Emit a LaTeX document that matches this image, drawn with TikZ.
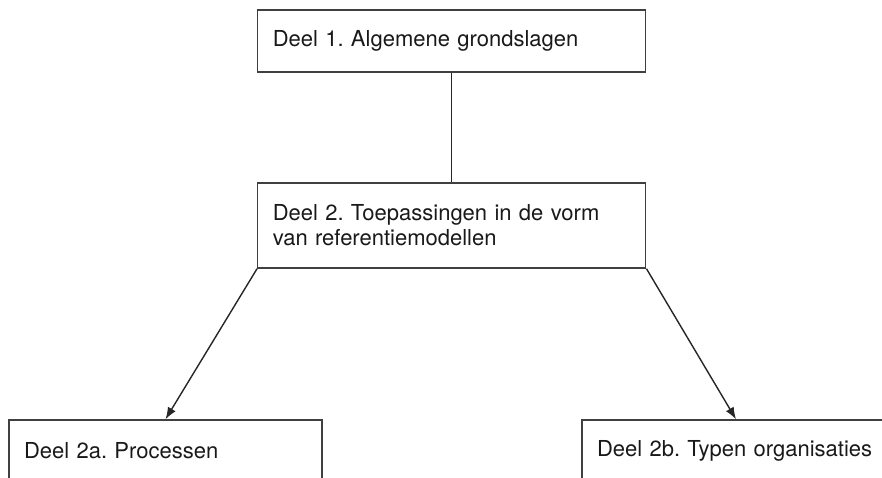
\documentclass[tikz,border=0pt]{standalone}
\usepackage{fontspec}
\setmainfont{TeX Gyre Heros}
\usetikzlibrary{arrows.meta}

\begin{document}
\frenchspacing
\begin{tikzpicture}[x=1pt, y=-1pt,
    deel/.style={draw=black!75, line width=1.4pt, align=left, inner xsep=15pt, inner ysep=0pt,
      minimum height=62pt, text=black!90, font=\fontsize{22}{25}\selectfont},
    pijl/.style={draw=black!85, line width=1.4pt, -{Latex[length=12pt,width=9pt]}}]
        \clip (0,0) rectangle (882,478);
        % Boxes at absolute positions (bottom ones are cut off by the clip)
        \node[deel, text width=358pt] (deel1) at (451.75,41) {Deel 1. Algemene grondslagen};
        \node[deel, text width=358pt, minimum height=85pt] (deel2) at (451.75,225.5) {Deel 2. Toepassingen in de vorm\\van referentiemodellen};
        \node[deel, text width=283pt] (deel2a) at (165.5,451) {Deel 2a. Processen};
        \node[deel, text width=278pt] (deel2b) at (736,451) {\mbox{Deel 2b. Typen organisaties}};

        % Connectors
        \draw[draw=black!85, line width=1.4pt] (deel1.south) -- (deel2.north);
        \draw[pijl] (deel2.south west) -- (deel2a.north);
        \draw[pijl] (deel2.south east) -- (deel2b.north);
      \end{tikzpicture}
\end{document}
